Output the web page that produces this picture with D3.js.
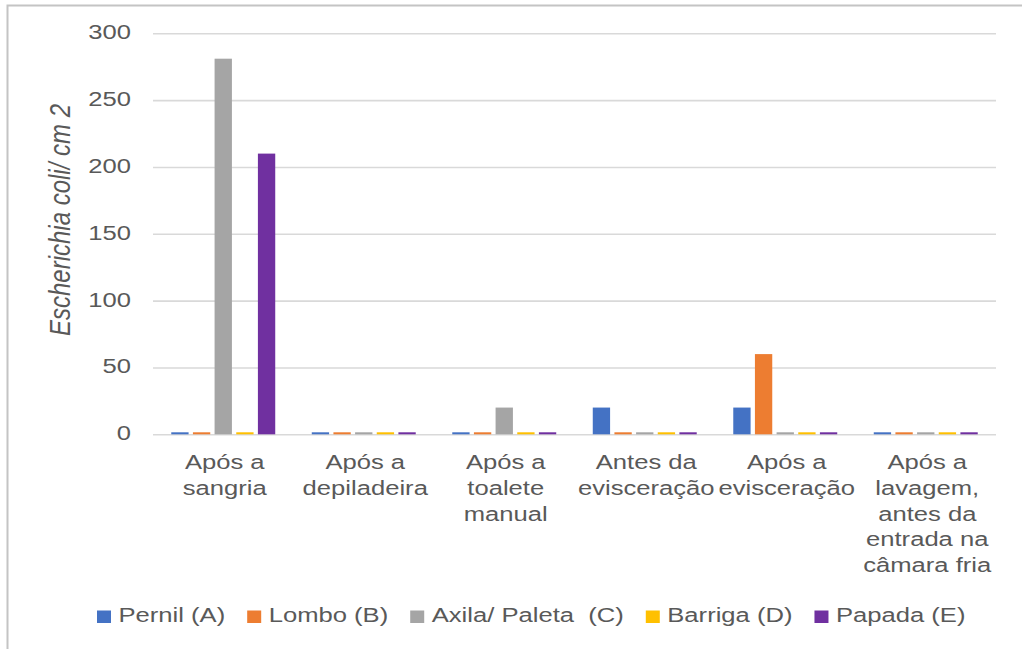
<!DOCTYPE html>
<html>
<head>
<meta charset="utf-8">
<script src="https://cdn.jsdelivr.net/npm/d3@7"></script>
<style>
  html, body { margin: 0; padding: 0; background: #fff; }
  svg { display: block; }
  text { font-family: "Liberation Sans", Arial, Helvetica, sans-serif; fill: #595959; }
</style>
</head>
<body>
<svg id="chart" width="1022" height="649"></svg>
<script>
// Sampling stages (label lines as printed under each group)
const categories = [
  ["Após a", "sangria"],
  ["Após a", "depiladeira"],
  ["Após a", "toalete", "manual"],
  ["Antes da", "evisceração"],
  ["Após a", "evisceração"],
  ["Após a", "lavagem,", "antes da", "entrada na", "câmara fria"]
];

// Carcass sites
const seriesNames = ["Pernil (A)", "Lombo (B)", "Axila/ Paleta  (C)", "Barriga (D)", "Papada (E)"];
const seriesColors = ["#4472C4", "#ED7D31", "#A5A5A5", "#FFC000", "#7030A0"];

// Escherichia coli / cm2 per site, one entry per stage
const pernil  = [1.5, 1.5, 1.5, 20, 20, 1.5];
const lombo   = [1.5, 1.5, 1.5, 1.5, 60, 1.5];
const axila   = [281, 1.5, 20, 1.5, 1.5, 1.5];
const barriga = [1.5, 1.5, 1.5, 1.5, 1.5, 1.5];
const papada  = [210, 1.5, 1.5, 1.5, 1.5, 1.5];
const seriesValues = [pernil, lombo, axila, barriga, papada];

const yTicks = [0, 50, 100, 150, 200, 250, 300];
const yTitle = "Escherichia coli/ cm 2";

// Glyphs are drawn slightly wide
const SX = 1.22;
const FONT = 21;

const svg = d3.select("#chart");

// Outer frame
svg.append("rect")
  .attr("x", 7.5).attr("y", 5.5)
  .attr("width", 1100).attr("height", 700)
  .attr("fill", "none").attr("stroke", "#c4c4c4").attr("stroke-width", 2);

const plot = { left: 153, right: 996, top: 33.3, bottom: 434.3 };

const y = d3.scaleLinear().domain([0, 300]).range([plot.bottom, plot.top]);

const x0 = d3.scaleBand()
  .domain(d3.range(categories.length))
  .range([plot.left, plot.right])
  .paddingInner(0.26).paddingOuter(0.13);

const x1 = d3.scaleBand()
  .domain(d3.range(seriesNames.length))
  .range([0, x0.bandwidth()])
  .paddingInner(0.2).paddingOuter(0);

// Gridlines + value labels
const yAxis = d3.axisLeft(y)
  .tickValues(yTicks)
  .tickSize(-(plot.right - plot.left))
  .tickPadding(0);

const gy = svg.append("g")
  .attr("transform", `translate(${plot.left},0)`)
  .call(yAxis);
gy.select(".domain").remove();
gy.selectAll(".tick line").attr("stroke", "#d9d9d9").attr("stroke-width", 1.6);
gy.selectAll(".tick text")
  .attr("x", null).attr("dy", null)
  .attr("transform", `translate(-22,5.5) scale(${SX},1)`)
  .attr("text-anchor", "end")
  .style("font-size", FONT + "px")
  .style("fill", "#595959")
  .style("font-family", '"Liberation Sans", Arial, sans-serif');

// Bars
const groups = svg.append("g").selectAll("g")
  .data(categories.map((c, i) => i))
  .join("g")
  .attr("transform", i => `translate(${x0(i)},0)`);

groups.selectAll("rect")
  .data(i => seriesValues.map((vals, s) => ({ s, v: vals[i] })))
  .join("rect")
  .attr("x", d => x1(d.s))
  .attr("width", x1.bandwidth())
  .attr("y", d => y(d.v))
  .attr("height", d => y(0) - y(d.v))
  .attr("fill", d => seriesColors[d.s]);

// Category labels
const lineH = 25.8;
categories.forEach((lines, i) => {
  const cx = x0(i) + x0.bandwidth() / 2 + 1.5;
  lines.forEach((t, k) => {
    svg.append("text")
      .attr("transform", `translate(${cx},${469 + k * lineH}) scale(${SX},1)`)
      .attr("text-anchor", "middle")
      .style("font-size", FONT + "px")
      .text(t);
  });
});

// Axis title
svg.append("text")
  .attr("transform", `translate(70,220) rotate(-90) scale(1,${SX})`)
  .attr("text-anchor", "middle")
  .style("font-size", "24px")
  .style("font-style", "italic")
  .text(yTitle);

// Legend
const legend = svg.append("g");
let lx = 97;
seriesNames.forEach((name, s) => {
  legend.append("rect")
    .attr("x", lx).attr("y", 610.5)
    .attr("width", 14).attr("height", 12.5)
    .attr("fill", seriesColors[s]);
  lx += 14 + 7.5;
  const t = legend.append("text")
    .attr("transform", `translate(${lx},621.7) scale(${SX},1)`)
    .attr("xml:space", "preserve")
    .style("white-space", "pre")
    .style("font-size", FONT + "px")
    .text(name);
  lx += t.node().getComputedTextLength() * SX + 22;
});
</script>
</body>
</html>
